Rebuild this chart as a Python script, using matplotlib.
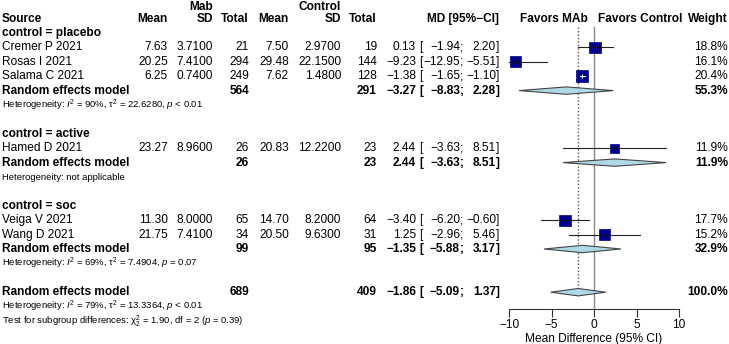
import numpy as np
import matplotlib
matplotlib.use("Agg")
import matplotlib.pyplot as plt
from matplotlib.patches import Rectangle, Polygon

plt.rcParams['font.family'] = ['Liberation Sans', 'DejaVu Sans']
plt.rcParams['mathtext.fontset'] = 'custom'
plt.rcParams['mathtext.rm'] = 'Liberation Sans'
plt.rcParams['mathtext.it'] = 'Liberation Sans:italic'
plt.rcParams['mathtext.bf'] = 'Liberation Sans:bold'

# ---- data ----
studies = ["Cremer P 2021", "Rosas I 2021", "Salama C 2021",
           "Hamed D 2021", "Veiga V 2021", "Wang D 2021"]
mab_mean = [7.63, 20.25, 6.25, 23.27, 11.30, 21.75]
mab_sd = [3.71, 7.41, 0.74, 8.96, 8.00, 7.41]
mab_n = [21, 294, 249, 26, 65, 34]
ctl_mean = [7.50, 29.48, 7.62, 20.83, 14.70, 20.50]
ctl_sd = [2.97, 22.15, 1.48, 12.22, 8.20, 9.63]
ctl_n = [19, 144, 128, 23, 64, 31]
md = [0.13, -9.23, -1.38, 2.44, -3.40, 1.25]
md_lo = [-1.94, -12.95, -1.65, -3.63, -6.20, -2.96]
md_hi = [2.20, -5.51, -1.10, 8.51, -0.60, 5.46]
weight = [18.8, 16.1, 20.4, 11.9, 17.7, 15.2]

groups = ["control = placebo", "control = active", "control = soc"]
group_members = [[0, 1, 2], [3], [4, 5]]
grp_n_mab = [564, 26, 99]
grp_n_ctl = [291, 23, 95]
grp_md = [-3.27, 2.44, -1.35]
grp_lo = [-8.83, -3.63, -5.88]
grp_hi = [2.28, 8.51, 3.17]
grp_w = [55.3, 11.9, 32.9]
grp_het = ["Heterogeneity: $I^2$ = 90%, \u03c4$^2$ = 22.6280, $p$ < 0.01",
           "Heterogeneity: not applicable",
           "Heterogeneity: $I^2$ = 69%, \u03c4$^2$ = 7.4904, $p$ = 0.07"]

all_n_mab, all_n_ctl = 689, 409
all_md, all_lo, all_hi = -1.86, -5.09, 1.37
all_het = "Heterogeneity: $I^2$ = 79%, \u03c4$^2$ = 13.3364, $p$ < 0.01"
sub_test = "Test for subgroup differences: \u03c7$^2_2$ = 1.90, df = 2 ($p$ = 0.39)"

xticks = [-10, -5, 0, 5, 10]

# ---- layout (pixel units) ----
W, H = 729, 344
fig = plt.figure(figsize=(W / 100, H / 100), dpi=100)
ax = fig.add_axes([0, 0, 1, 1])
ax.set_xlim(0, W)
ax.set_ylim(H, 0)
ax.axis('off')

AX_L, AX_R, AX_B = 509, 679, 309
fa = fig.add_axes([AX_L / W, 1 - AX_B / H, (AX_R - AX_L) / W, AX_B / H])
fa.set_xlim(-10, 10)
fa.set_ylim(AX_B, 0)
fa.patch.set_alpha(0)
for s in ['top', 'left', 'right']:
    fa.spines[s].set_visible(False)
fa.spines['bottom'].set_color('#333333')
fa.spines['bottom'].set_linewidth(0.8)
fa.set_yticks([])
fa.set_xticks(xticks)
fa.tick_params(axis='x', length=5.5, width=0.8, color='#333333', pad=1.5, labelsize=8.6)
fa.set_xlabel("Mean Difference (95% CI)", fontsize=8.6, labelpad=1.5)

FS = 8.6
FS_S = 6.8
def row_y(r):
    return 33 + 14.4 * r

X_SRC = 2
X_MM, X_MSD, X_MN = 168, 213, 249
X_CM, X_CSD, X_CN = 289, 341, 377
X_EST, X_LO, X_HI = 416, 460, 496
X_W = 728

def fmt(v):
    return f"{v:.2f}".replace("-", "\u2212")

def ci_text(y, est, lo, hi, bold=False):
    fw = 'bold' if bold else 'normal'
    ax.text(X_EST, y, fmt(est), ha='right', va='center', fontsize=FS, fontweight=fw)
    ax.text(X_EST + 3.5, y, "[", ha='left', va='center', fontsize=FS, fontweight=fw)
    ax.text(X_LO, y, fmt(lo), ha='right', va='center', fontsize=FS, fontweight=fw)
    ax.text(X_LO, y, ";", ha='left', va='center', fontsize=FS, fontweight=fw)
    ax.text(X_HI, y, fmt(hi), ha='right', va='center', fontsize=FS, fontweight=fw)
    ax.text(X_HI, y, "]", ha='left', va='center', fontsize=FS, fontweight=fw)

def diamond(y, est, lo, hi):
    h = 3.7
    pts = [(lo, y), (est, y - h), (hi, y), (est, y + h)]
    fa.add_patch(Polygon(pts, closed=True, facecolor='#ADD8E6', edgecolor='#444444',
                         linewidth=0.8, zorder=3, clip_on=False))

# headers
hy = 19
ax.text(X_MSD, 7, "Mab", ha='right', va='center', fontsize=FS, fontweight='bold')
ax.text(X_CSD, 7, "Control", ha='right', va='center', fontsize=FS, fontweight='bold')
ax.text(X_SRC, hy, "Source", ha='left', va='center', fontsize=FS, fontweight='bold')
for x, t in [(X_MM, "Mean"), (X_MSD, "SD"), (X_MN, "Total"), (X_CM, "Mean"),
             (X_CSD, "SD"), (X_CN, "Total"), (499, "MD [95%\u2212CI]"), (X_W, "Weight")]:
    ax.text(x, hy, t, ha='right', va='center', fontsize=FS, fontweight='bold')
ax.text(554, hy, "Favors MAb", ha='center', va='center', fontsize=FS, fontweight='bold')
ax.text(640, hy, "Favors Control", ha='center', va='center', fontsize=FS, fontweight='bold')

# reference line at zero
fa.plot([0, 0], [27, AX_B], color='#888888', lw=1.0, zorder=1, clip_on=False)

r = 0
for g, name in enumerate(groups):
    ax.text(X_SRC, row_y(r), name, ha='left', va='center', fontsize=FS, fontweight='bold')
    r += 1
    for i in group_members[g]:
        y = row_y(r)
        ax.text(X_SRC, y, studies[i], ha='left', va='center', fontsize=FS)
        ax.text(X_MM, y, f"{mab_mean[i]:.2f}", ha='right', va='center', fontsize=FS)
        ax.text(X_MSD, y, f"{mab_sd[i]:.4f}", ha='right', va='center', fontsize=FS)
        ax.text(X_MN, y, f"{mab_n[i]}", ha='right', va='center', fontsize=FS)
        ax.text(X_CM, y, f"{ctl_mean[i]:.2f}", ha='right', va='center', fontsize=FS)
        ax.text(X_CSD, y, f"{ctl_sd[i]:.4f}", ha='right', va='center', fontsize=FS)
        ax.text(X_CN, y, f"{ctl_n[i]}", ha='right', va='center', fontsize=FS)
        ci_text(y, md[i], md_lo[i], md_hi[i])
        ax.text(X_W, y, f"{weight[i]:.1f}%", ha='right', va='center', fontsize=FS)
        # square + CI
        side = 2.7 * np.sqrt(weight[i])
        sw = side / ((AX_R - AX_L) / 20)
        lo, hi = max(md_lo[i], -10), min(md_hi[i], 10)
        fa.plot([lo, hi], [y, y], color='#222222', lw=0.8, zorder=2, clip_on=False)
        fa.add_patch(Rectangle((md[i] - sw / 2, y - side / 2), sw, side,
                               facecolor='#00008B', edgecolor='#00008B', lw=0.5, zorder=3))
        inside = md_lo[i] > md[i] - sw / 2 and md_hi[i] < md[i] + sw / 2
        c = 'white' if inside else '#111111'
        fa.plot([max(lo, md[i] - sw / 2), min(hi, md[i] + sw / 2)], [y, y], color=c, lw=0.8, zorder=4)
        fa.plot([md[i]], [y], marker='|', ms=3, mew=0.8, color=c, zorder=4)
        r += 1
    y = row_y(r)
    ax.text(X_SRC, y, "Random effects model", ha='left', va='center', fontsize=FS, fontweight='bold')
    ax.text(X_MN, y, f"{grp_n_mab[g]}", ha='right', va='center', fontsize=FS, fontweight='bold')
    ax.text(X_CN, y, f"{grp_n_ctl[g]}", ha='right', va='center', fontsize=FS, fontweight='bold')
    ci_text(y, grp_md[g], grp_lo[g], grp_hi[g], bold=True)
    ax.text(X_W, y, f"{grp_w[g]:.1f}%", ha='right', va='center', fontsize=FS, fontweight='bold')
    diamond(y, grp_md[g], grp_lo[g], grp_hi[g])
    r += 1
    ax.text(X_SRC, row_y(r), grp_het[g], ha='left', va='center', fontsize=FS_S)
    r += 2

# overall
y = row_y(r)
ax.text(X_SRC, y, "Random effects model", ha='left', va='center', fontsize=FS, fontweight='bold')
ax.text(X_MN, y, f"{all_n_mab}", ha='right', va='center', fontsize=FS, fontweight='bold')
ax.text(X_CN, y, f"{all_n_ctl}", ha='right', va='center', fontsize=FS, fontweight='bold')
ci_text(y, all_md, all_lo, all_hi, bold=True)
ax.text(X_W, y, "100.0%", ha='right', va='center', fontsize=FS, fontweight='bold')
diamond(y, all_md, all_lo, all_hi)
fa.plot([all_md, all_md], [27, y], color='#555555', lw=1.0, ls=(0, (1, 1.5)), zorder=1, clip_on=False)
ax.text(X_SRC, row_y(r + 1), all_het, ha='left', va='center', fontsize=FS_S)
ax.text(X_SRC, row_y(r + 2), sub_test, ha='left', va='center', fontsize=FS_S)

fig.savefig("out.png", dpi=100)
